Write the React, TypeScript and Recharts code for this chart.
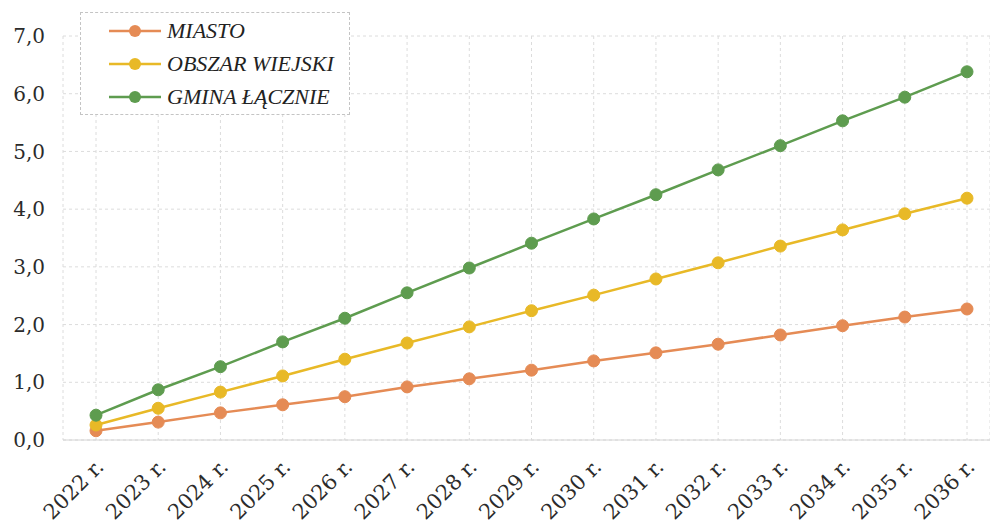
import React from 'react';
import {
  LineChart, Line, XAxis, YAxis, CartesianGrid,
} from 'recharts';

const years = [
  '2022 r.', '2023 r.', '2024 r.', '2025 r.', '2026 r.', '2027 r.', '2028 r.',
  '2029 r.', '2030 r.', '2031 r.', '2032 r.', '2033 r.', '2034 r.', '2035 r.', '2036 r.',
];
const miasto = [0.16, 0.31, 0.47, 0.61, 0.75, 0.92, 1.06, 1.21, 1.37, 1.51, 1.66, 1.82, 1.98, 2.13, 2.27];
const obszarWiejski = [0.26, 0.55, 0.83, 1.11, 1.4, 1.68, 1.96, 2.24, 2.51, 2.79, 3.07, 3.36, 3.64, 3.92, 4.19];
const gminaLacznie = [0.43, 0.87, 1.27, 1.7, 2.11, 2.55, 2.98, 3.41, 3.83, 4.25, 4.68, 5.1, 5.53, 5.94, 6.38];
const yTicks = [0, 1, 2, 3, 4, 5, 6, 7];

const series = [
  { key: 'miasto', name: 'MIASTO', color: '#e58b55' },
  { key: 'obszar', name: 'OBSZAR WIEJSKI', color: '#e8b927' },
  { key: 'gmina', name: 'GMINA ŁĄCZNIE', color: '#5e9c4f' },
];

const data = years.map((year, i) => ({
  year,
  miasto: miasto[i],
  obszar: obszarWiejski[i],
  gmina: gminaLacznie[i],
}));

const fmt = (v: number) => v.toFixed(1).replace('.', ',');

function XTick({ x, y, payload }: any) {
  const tx = x + 9;
  const ty = y + 20;
  return (
    <text
      x={tx}
      y={ty}
      textAnchor="end"
      transform={`rotate(-45, ${tx}, ${ty})`}
      fontSize={21}
      fontFamily="DejaVu Serif"
      fill="#2b2b2b"
    >
      {payload.value}
    </text>
  );
}

function LegendBox() {
  return (
    <div
      style={{
        position: 'absolute',
        left: 80,
        top: 12,
        border: '1.5px dashed #c4c4c4',
        background: '#fff',
        padding: '1px 10px 1px 28px',
        width: 230,
      }}
    >
      {series.map((s) => (
        <div key={s.key} style={{ display: 'flex', alignItems: 'center', height: 33 }}>
          <svg width={52} height={16}>
            <line x1={0} y1={8} x2={52} y2={8} stroke={s.color} strokeWidth={2.5} />
            <circle cx={26} cy={8} r={6} fill={s.color} />
          </svg>
          <span
            style={{
              marginLeft: 6,
              fontFamily: 'Liberation Serif',
              fontStyle: 'italic',
              fontSize: 22,
              color: '#222',
            }}
          >
            {s.name}
          </span>
        </div>
      ))}
    </div>
  );
}

export default function App() {
  return (
    <div style={{ position: 'relative', width: 990, height: 527, background: '#fff' }}>
      <style>{'body{margin:0}'}</style>
      <LineChart width={990} height={527} data={data} margin={{ top: 36, right: 0, left: 0, bottom: 0 }}>
        <CartesianGrid stroke="#dcdcdc" strokeDasharray="3 3" />
        <XAxis
          dataKey="year"
          interval={0}
          height={87}
          padding={{ left: 33, right: 23 }}
          axisLine={{ stroke: '#d4d4d4' }}
          tickLine={false}
          tick={<XTick />}
        />
        <YAxis
          domain={[0, 7]}
          ticks={yTicks}
          width={63}
          axisLine={false}
          tickLine={false}
          tickFormatter={fmt}
          tick={{ fontSize: 20, fontFamily: 'DejaVu Serif', fill: '#2b2b2b', dx: -10 }}
        />
        {series.map((s) => (
          <Line
            key={s.key}
            dataKey={s.key}
            name={s.name}
            stroke={s.color}
            strokeWidth={2.5}
            dot={{ r: 6, fill: s.color, stroke: s.color, strokeWidth: 1 }}
            isAnimationActive={false}
          />
        ))}
      </LineChart>
      <LegendBox />
    </div>
  );
}
